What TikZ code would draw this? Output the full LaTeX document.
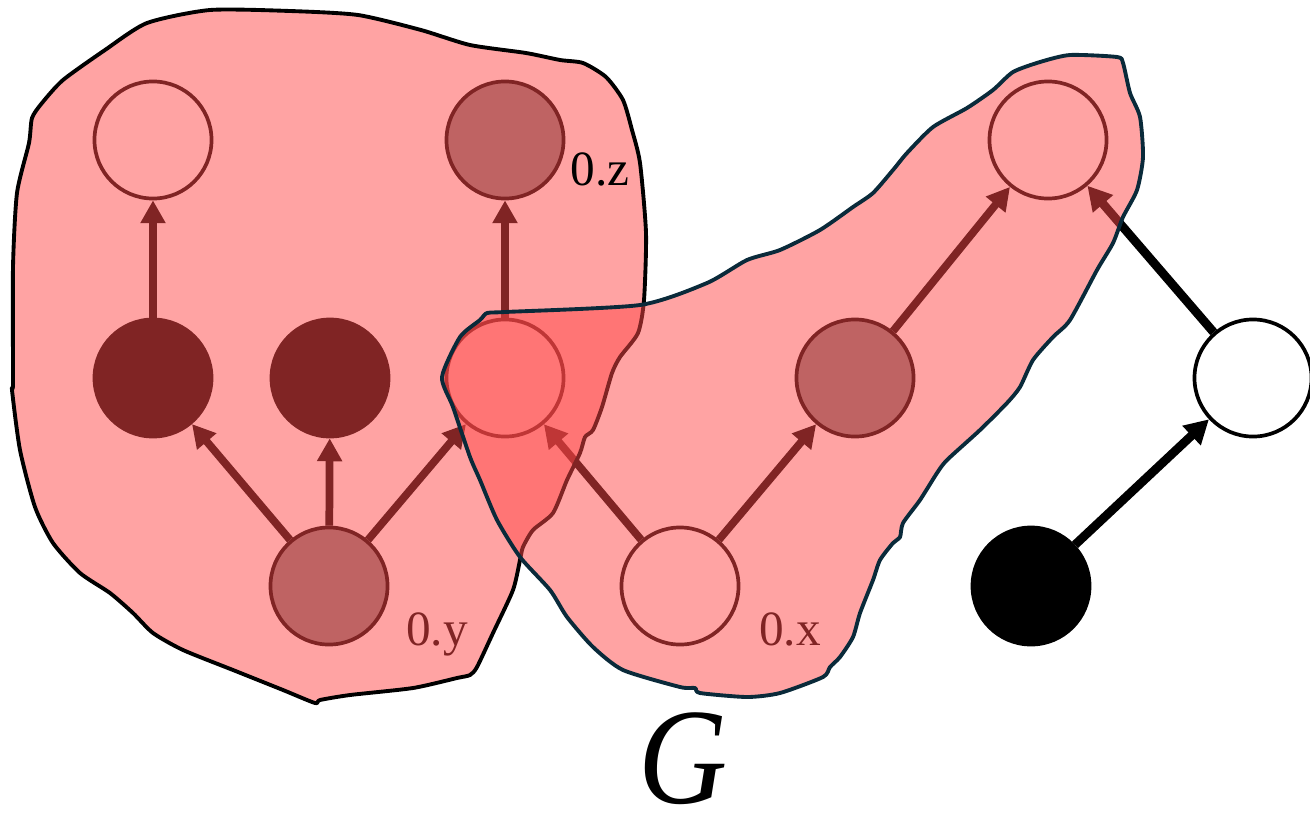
\documentclass[tikz,border=0pt]{standalone}
\usepackage{fontspec}
\setmainfont{Liberation Serif}
\usetikzlibrary{arrows.meta}
\definecolor{blobred}{RGB}{255,72,72}
\definecolor{rimblue}{RGB}{10,42,58}
\definecolor{midgray}{RGB}{128,128,128}
\begin{document}
\begin{tikzpicture}[x=0.01cm,y=-0.01cm,
  vtx/.style={circle,draw=black,line width=1.05pt,minimum size=1.17cm,inner sep=0pt},
  redge/.style={line width=2.2pt,-{Triangle[length=6.5pt,width=6.8pt]}},
  bedge/.style={line width=2.5pt,-{Triangle[length=6.8pt,width=7.2pt]}},
  lab/.style={font=\fontsize{14}{16}\selectfont,anchor=base,inner sep=0pt},
  blob/.style={fill=blobred,fill opacity=0.5,line width=1.1pt,line join=round},
]
\useasboundingbox (0,0) rectangle (1310,821);
% graph
\node[vtx,fill=white] (A) at (153,140) {};
\node[vtx,fill=midgray] (B) at (505,140) {};
\node[vtx,fill=black] (C) at (153,378) {};
\node[vtx,fill=black] (D) at (330,378) {};
\node[vtx,fill=white] (E) at (505,378) {};
\node[vtx,fill=midgray] (F) at (329,586) {};
\node[vtx,fill=white] (Gn) at (680,586) {};
\node[vtx,fill=midgray] (H) at (855,378) {};
\node[vtx,fill=white] (I) at (1048,140) {};
\node[vtx,fill=white] (J) at (1253,378) {};
\node[vtx,fill=black] (K) at (1031,586) {};
\draw[redge] (C) -- (A);
\draw[redge] (E) -- (B);
\draw[redge] (F) -- (C);
\draw[redge] (F) -- (D);
\draw[redge] (F) -- (E);
\draw[redge] (Gn) -- (E);
\draw[redge] (Gn) -- (H);
\draw[redge] (H) -- (I);
\draw[bedge] (J) -- (I);
\draw[bedge] (K) -- (J);
\node[lab] (ly) at (437,645) {0.y};
\node[lab] (lx) at (790,645) {0.x};
% left blob
\draw[blob,draw=black] plot[smooth cycle,tension=0.4] coordinates {
 (13,383) (13,267) (17,193) (29,143) (32,118) (42,103) (63,80) (105,50) (147,23)
 (210,10) (290,11) (358,15) (421,30) (470,45) (526,53) (560,60) (583,63) (606,77)
 (623,100) (632,130) (640,163) (646,233) (644,300) (638,333) (620,357) (612,373)
 (602,407) (593,430) (585,437) (580,453) (567,480) (553,513) (533,530) (523,547)
 (520,560) (513,590) (493,633) (477,667) (470,675) (457,678) (413,688) (350,695)
 (320,700) (315,703) (283,690) (233,670) (183,650) (153,633) (133,613) (110,593)
 (80,573) (53,543) (35,507) (20,450) (12,390)};
% right blob
\draw[blob,draw=rimblue] plot[smooth cycle,tension=0.4] coordinates {
 (442,377) (460,337) (480,320) (487,313) (505,312) (640,305) (707,283) (747,260)
 (780,250) (820,230) (853,207) (873,193) (893,170) (907,153) (933,127) (967,108)
 (993,90) (1013,72) (1040,62) (1070,55) (1117,57) (1123,63) (1130,93) (1140,117)
 (1143,157) (1137,190) (1123,217) (1113,243) (1097,270) (1070,320) (1053,337)
 (1033,360) (1020,387) (1007,403) (980,430) (947,460) (937,473) (920,500)
 (903,523) (900,537) (893,543) (880,560) (873,580) (860,613) (853,637) (840,657)
 (830,667) (823,677) (780,693) (747,697) (700,693) (695,688) (680,687) (623,670)
 (593,647) (567,617) (550,590) (520,557) (497,520) (480,480) (470,457) (453,407)};
\node[lab] (lz) at (600,185) {0.z};
\node[font=\fontsize{39}{42}\selectfont\itshape,anchor=base,inner sep=0pt,xscale=0.9] (gl) at (683,803) {G};
\end{tikzpicture}
\end{document}
